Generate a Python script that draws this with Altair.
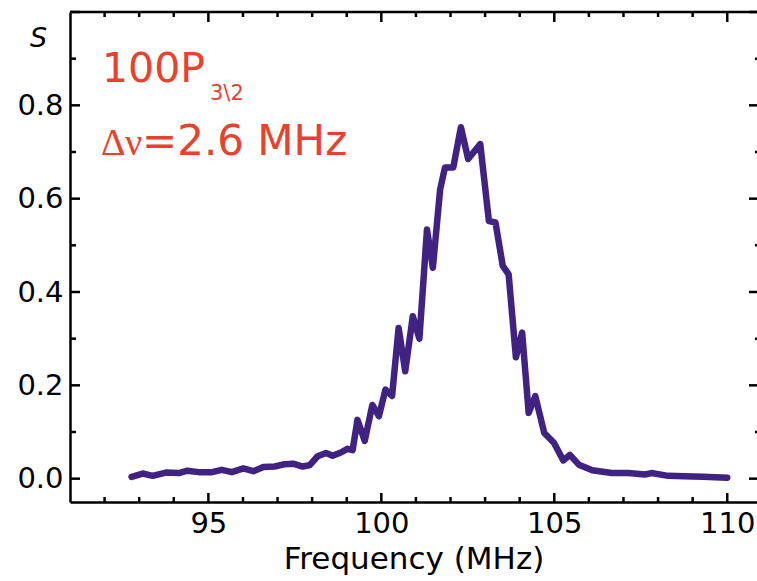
import altair as alt
import pandas as pd

# ---- data ----
freq = [92.78, 93.1, 93.39, 93.77, 94.15, 94.39, 94.72, 95.1, 95.39, 95.68,
        96.01, 96.3, 96.59, 96.92, 97.21, 97.45, 97.73, 97.93, 98.16, 98.4,
        98.59, 98.83, 99.02, 99.17, 99.31, 99.52, 99.74, 99.93, 100.12, 100.31,
        100.5, 100.69, 100.91, 101.1, 101.32, 101.49, 101.7, 101.84, 102.08, 102.3,
        102.51, 102.86, 103.11, 103.3, 103.51, 103.68, 103.89, 104.07, 104.26, 104.45,
        104.71, 104.99, 105.26, 105.45, 105.71, 106.1, 106.66, 107.14, 107.62, 107.81,
        108.29, 108.76, 109.3, 110.0]
signal = [0.004, 0.011, 0.006, 0.013, 0.012, 0.017, 0.014, 0.014, 0.019, 0.014,
          0.022, 0.016, 0.025, 0.026, 0.031, 0.032, 0.026, 0.029, 0.048, 0.055,
          0.049, 0.056, 0.064, 0.061, 0.126, 0.081, 0.158, 0.134, 0.191, 0.177,
          0.323, 0.23, 0.348, 0.3, 0.534, 0.452, 0.62, 0.667, 0.667, 0.753,
          0.685, 0.717, 0.552, 0.549, 0.456, 0.438, 0.26, 0.313, 0.141, 0.177,
          0.098, 0.077, 0.039, 0.051, 0.03, 0.018, 0.012, 0.012, 0.009, 0.012,
          0.006, 0.005, 0.004, 0.002]

x_major = [95, 100, 105, 110]
x_minor = [92, 93, 94, 96, 97, 98, 99, 101, 102, 103, 104, 106, 107, 108, 109]
y_major = [0.0, 0.2, 0.4, 0.6, 0.8]
y_minor = [0.1, 0.3, 0.5, 0.7, 0.9]

x_domain = [91, 110.86]
y_domain = [-0.05, 1.0]

W, H = 687, 490
FONT = "DejaVu Sans"
LINE_COLOR = "#3f2282"
RED = "#e8412c"

df = pd.DataFrame({"freq": freq, "S": signal})
xs = alt.Scale(domain=x_domain, nice=False, zero=False)
ys = alt.Scale(domain=y_domain, nice=False, zero=False)

line = alt.Chart(df).mark_line(color=LINE_COLOR, strokeWidth=6.5, strokeJoin="round",
                               strokeCap="round").encode(
    x=alt.X("freq:Q", scale=xs,
            axis=alt.Axis(values=x_major, ticks=False, grid=False, domainWidth=2.5,
                          domainColor="black", labelFontSize=29, labelFont=FONT,
                          labelColor="black", labelPadding=7, labelFlush=False,
                          title="Frequency (MHz)", titleFont=FONT, titleFontSize=31,
                          titleFontWeight="normal", titleColor="black", titlePadding=6)),
    y=alt.Y("S:Q", scale=ys,
            axis=alt.Axis(values=y_major, format=".1f", ticks=False, grid=False,
                          domainWidth=2.5, domainColor="black", labelFontSize=29,
                          labelFont=FONT, labelColor="black", labelPadding=7,
                          labelFlush=False, title=None)),
)

tick_style = dict(color="black", strokeWidth=2.5)

def xticks(vals, y0, y1):
    return alt.Chart(pd.DataFrame({"v": vals})).mark_rule(**tick_style).encode(
        x=alt.X("v:Q", scale=xs), y=alt.value(y0), y2=alt.value(y1))

def yticks(vals, x0, x1):
    return alt.Chart(pd.DataFrame({"v": vals})).mark_rule(**tick_style).encode(
        y=alt.Y("v:Q", scale=ys), x=alt.value(x0), x2=alt.value(x1))

ticks = [
    xticks(x_major, H, H - 9), xticks(x_minor, H, H - 5),
    xticks(x_major, 0, 10), xticks(x_minor, 0, 5),
    yticks(y_major + [1.0], 0, 10), yticks(y_minor, 0, 6),
    yticks(y_major + [1.0], W - 8, W), yticks(y_minor, W - 2, W),
]

one = pd.DataFrame({"k": [0]})
top_frame = alt.Chart(one).mark_rule(color="black", strokeWidth=2.5).encode(
    x=alt.value(0), x2=alt.value(W), y=alt.value(0))

def label(text, x, y, size, font=FONT, style="normal", color=RED):
    return alt.Chart(one).mark_text(text=text, font=font, fontSize=size, fontStyle=style,
                                    color=color, align="left", baseline="alphabetic").encode(
        x=alt.value(x), y=alt.value(y))

texts = [
    label("100P", 32, 70, 41),
    label("3\\2", 140, 88, 21),
    label("Δ", 31, 143, 38, font="Liberation Serif"),
    label("ν", 55, 143, 38, font="Liberation Serif"),
    label("=2.6 MHz", 72, 143, 42),
    label("S", -40, 35, 27, style="italic", color="black"),
]

chart = alt.layer(line, *ticks, top_frame, *texts).properties(
    width=W, height=H,
    autosize=alt.AutoSizeParams(type="none"),
    padding={"left": 70, "top": 12, "right": 0, "bottom": 79},
    background="white",
).configure_view(stroke=None)

chart.save("out.html", embed_options={"renderer": "svg", "actions": False})
